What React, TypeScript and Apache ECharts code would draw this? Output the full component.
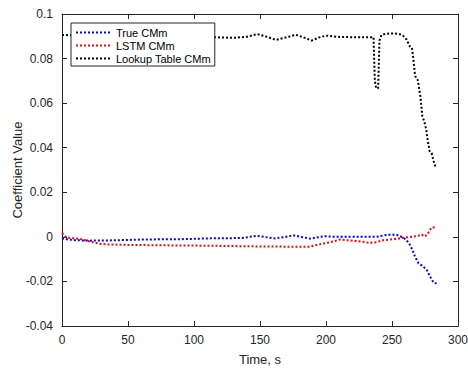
import React, { useEffect, useRef } from "react";
import * as echarts from "echarts";

const trueT = [0, 5, 10, 21, 35, 49, 60, 74, 85, 99.5, 115, 125, 137, 142, 147.5, 155, 161.5, 168, 175, 181, 188, 194, 199, 208, 220, 238, 246, 253.5, 258.6, 261, 263.6, 265.5, 267.4, 270, 273.7, 276.3, 278.8, 281.3, 283.8];
const trueV = [-0.0007, -0.0012, -0.0015, -0.0017, -0.0016, -0.0014, -0.0012, -0.0011, -0.0011, -0.0009, -0.0006, -0.0006, -0.0005, 0.0, 0.0005, -0.0002, -0.0007, -0.0002, 0.0007, 0.0, -0.0008, -0.0002, 0.0003, 0.0, 0.0, 0.0, 0.0009, 0.0009, -0.0003, -0.0015, -0.0036, -0.006, -0.0088, -0.0118, -0.0133, -0.0148, -0.0178, -0.0204, -0.021];

const lstmT = [0, 1.5, 3.5, 8, 13.6, 21, 28.8, 35, 49, 75, 99.5, 125, 150, 170, 187.9, 193, 198, 203, 210.6, 218, 225, 233.3, 238, 243.4, 253.5, 261, 268.7, 272.5, 275, 277, 280, 283.8];
const lstmV = [0.0017, 0.0008, -0.0003, -0.0006, -0.0009, -0.0021, -0.0031, -0.0034, -0.0036, -0.0038, -0.0039, -0.0041, -0.0043, -0.0044, -0.0044, -0.0036, -0.003, -0.0024, -0.0012, -0.0016, -0.002, -0.0027, -0.0024, -0.0015, -0.0009, -0.0002, 0.0003, 0.001, 0.0002, 0.0014, 0.0042, 0.0043];

const lookupT = [0, 10, 20, 40, 60, 80, 100, 120, 130, 140, 148, 155, 162, 170, 177, 183, 189, 195, 200, 210, 220, 230, 236, 237, 238, 239.5, 240.5, 242, 245, 250, 255, 258, 261, 263.5, 265, 266, 267.5, 269.5, 271.5, 273, 274.5, 276, 277, 278.5, 280, 281.5, 283.3];
const lookupV = [0.0906, 0.0904, 0.0903, 0.0901, 0.0899, 0.0898, 0.0897, 0.0895, 0.0893, 0.0898, 0.091, 0.0898, 0.0884, 0.0895, 0.0907, 0.0895, 0.0881, 0.0895, 0.0903, 0.0897, 0.0896, 0.0896, 0.0896, 0.07, 0.0667, 0.0667, 0.088, 0.0906, 0.0911, 0.0913, 0.0911, 0.0905, 0.0886, 0.0855, 0.085, 0.0808, 0.0722, 0.0704, 0.063, 0.054, 0.0517, 0.048, 0.0435, 0.0385, 0.0376, 0.034, 0.0308];

const seriesNames = ["True CMm", "LSTM CMm", "Lookup Table CMm"];
const seriesColors = ["#0000ff", "#ff0000", "#000000"];

const pair = (t: number[], v: number[]) => t.map((x, i) => [x, v[i]]);

const AXIS_COLOR = "#262626";
const FONT = "'Liberation Sans', Arial, sans-serif";

export default function App() {
  const ref = useRef<HTMLDivElement>(null);
  useEffect(() => {
    if (!ref.current) return;
    const chart = echarts.init(ref.current, undefined, { renderer: "svg" });
    const data = [pair(trueT, trueV), pair(lstmT, lstmV), pair(lookupT, lookupV)];
    const axisLine = { show: true, onZero: false, lineStyle: { color: AXIS_COLOR, width: 1 } };
    const axisTick = { show: true, inside: true, length: 5, lineStyle: { color: AXIS_COLOR } };
    chart.setOption({
      animation: false,
      backgroundColor: "#ffffff",
      textStyle: { fontFamily: FONT },
      grid: { left: 62, right: 10, top: 14, bottom: 43, containLabel: false, outerBoundsMode: "none" },
      legend: {
        show: true,
        orient: "vertical",
        left: 71,
        top: 23,
        padding: [4, 4, 2, 4],
        itemGap: 2,
        itemWidth: 35,
        itemHeight: 12,
        backgroundColor: "#ffffff",
        borderColor: AXIS_COLOR,
        borderWidth: 1,
        borderRadius: 0,
        itemStyle: { opacity: 0, borderWidth: 0 },
        lineStyle: { width: 2, type: [2, 2] },
        textStyle: { fontSize: 11, color: "#000000", fontFamily: FONT, padding: [0, 0, 0, 0] },
        data: seriesNames,
      },
      xAxis: [
        {
          type: "value",
          min: 0,
          max: 300,
          interval: 50,
          position: "bottom",
          name: "Time, s",
          nameLocation: "middle",
          nameGap: 27,
          nameMoveOverlap: false,
          nameTextStyle: { fontSize: 13, color: AXIS_COLOR, fontFamily: FONT },
          axisLine,
          axisTick,
          splitLine: { show: false },
          axisLabel: { fontSize: 12, color: AXIS_COLOR, margin: 8, fontFamily: FONT },
        },
        {
          type: "value",
          min: 0,
          max: 300,
          interval: 50,
          position: "top",
          axisLine,
          axisTick,
          splitLine: { show: false },
          axisLabel: { show: false },
        },
      ],
      yAxis: [
        {
          type: "value",
          min: -0.04,
          max: 0.1,
          interval: 0.02,
          position: "left",
          name: "Coefficient Value",
          nameLocation: "middle",
          nameGap: 38,
          nameMoveOverlap: false,
          nameTextStyle: { fontSize: 13, color: AXIS_COLOR, fontFamily: FONT },
          axisLine,
          axisTick,
          splitLine: { show: false },
          axisLabel: {
            fontSize: 12,
            color: AXIS_COLOR,
            margin: 9,
            fontFamily: FONT,
            formatter: (v: number) => String(parseFloat(v.toFixed(2))),
          },
        },
        {
          type: "value",
          min: -0.04,
          max: 0.1,
          interval: 0.02,
          position: "right",
          axisLine,
          axisTick,
          splitLine: { show: false },
          axisLabel: { show: false },
        },
      ],
      series: seriesNames.map((name, i) => ({
        name,
        type: "line",
        xAxisIndex: 0,
        yAxisIndex: 0,
        data: data[i],
        symbol: "none",
        symbolSize: 0,
        showSymbol: false,
        smooth: false,
        color: seriesColors[i],
        itemStyle: { color: seriesColors[i] },
        lineStyle: { color: seriesColors[i], width: 2, type: [2, 2] },
        z: i === 2 ? 3 : 2,
      })),
    });
    return () => chart.dispose();
  }, []);
  return (
    <div
      ref={ref}
      style={{ position: "fixed", left: 0, top: 0, width: 468, height: 369, background: "#fff" }}
    />
  );
}
